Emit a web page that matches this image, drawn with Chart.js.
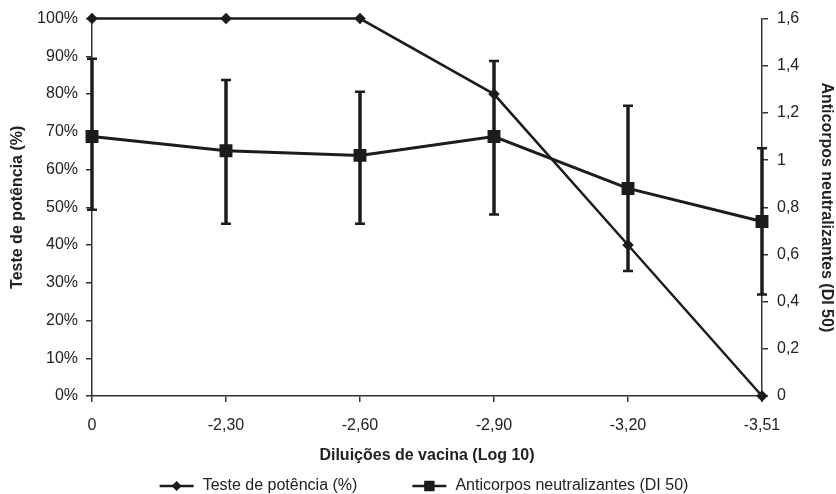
<!DOCTYPE html>
<html>
<head>
<meta charset="utf-8">
<title>Teste de potência x Anticorpos neutralizantes</title>
<script src="https://cdn.jsdelivr.net/npm/chart.js@4.4.1/dist/chart.umd.min.js"></script>
<style>
  html, body { margin: 0; padding: 0; background: #fff; }
  #wrap { position: relative; width: 836px; height: 494px; }
</style>
</head>
<body>
<div id="wrap"><canvas id="chart"></canvas></div>
<script>
// values
const dilutions = ['0', '-2,30', '-2,60', '-2,90', '-3,20', '-3,51'];
const potencyValues = [100, 100, 100, 80, 40, 0];
const antibodyMeans = [1.10, 1.04, 1.02, 1.10, 0.88, 0.74];
const antibodyUpper = [1.43, 1.34, 1.29, 1.42, 1.23, 1.05];
const antibodyLower = [0.79, 0.73, 0.73, 0.77, 0.53, 0.43];
const leftTickLabels = ['0%', '10%', '20%', '30%', '40%', '50%', '60%', '70%', '80%', '90%', '100%'];
const rightTickLabels = ['0', '0,2', '0,4', '0,6', '0,8', '1', '1,2', '1,4', '1,6'];

const INK = '#1c1c1c';
const AXIS = '#333333';
const FONT = "'Liberation Sans', Arial, sans-serif";

Chart.defaults.font.family = FONT;
Chart.defaults.font.size = 16;
Chart.defaults.color = '#222';

// error bars for the antibody series, on the right axis
const errorBars = {
  id: 'errorBars',
  afterDatasetsDraw(chart) {
    const ctx = chart.ctx;
    const meta = chart.getDatasetMeta(1);
    const y1 = chart.scales.y1;
    ctx.save();
    ctx.strokeStyle = INK;
    meta.data.forEach((pt, i) => {
      const top = y1.getPixelForValue(antibodyUpper[i]);
      const bottom = y1.getPixelForValue(antibodyLower[i]);
      ctx.lineWidth = 3.5;
      ctx.beginPath();
      ctx.moveTo(pt.x, top);
      ctx.lineTo(pt.x, bottom);
      ctx.stroke();
      ctx.lineWidth = 2.5;
      ctx.beginPath();
      ctx.moveTo(pt.x - 5, top);
      ctx.lineTo(pt.x + 5, top);
      ctx.moveTo(pt.x - 5, bottom);
      ctx.lineTo(pt.x + 5, bottom);
      ctx.stroke();
    });
    ctx.restore();
  }
};

// legend drawn below the axis title: line + marker, then the label
const bottomLegend = {
  id: 'bottomLegend',
  afterDraw(chart) {
    const ctx = chart.ctx;
    const y = 486;
    const lineLen = 34;
    const gap = 55;
    ctx.save();
    ctx.font = '16px ' + FONT;
    ctx.textBaseline = 'middle';
    const items = chart.data.datasets.map(ds => ({ ds, w: ctx.measureText(ds.label).width }));
    let total = 0;
    items.forEach((it, i) => { total += lineLen + 9 + it.w + (i ? gap : 0); });
    let x = chart.width / 2 + 6 - total / 2;
    items.forEach(({ ds, w }) => {
      ctx.strokeStyle = ds.borderColor;
      ctx.lineWidth = 2.5;
      ctx.beginPath();
      ctx.moveTo(x, y);
      ctx.lineTo(x + lineLen, y);
      ctx.stroke();
      Chart.helpers.drawPoint(ctx, {
        pointStyle: ds.pointStyle,
        radius: ds.pointRadius * 0.8,
        rotation: 0,
        borderWidth: 1
      }, x + lineLen / 2, y);
      ctx.fillStyle = ds.pointBackgroundColor;
      ctx.fill();
      ctx.fillStyle = '#222';
      ctx.fillText(ds.label, x + lineLen + 9, y);
      x += lineLen + 9 + w + gap;
    });
    ctx.restore();
  }
};

const ctx = document.getElementById('chart').getContext('2d');

new Chart(ctx, {
  type: 'line',
  data: {
    labels: dilutions,
    datasets: [
      {
        label: 'Teste de potência (%)',
        data: potencyValues,
        yAxisID: 'y',
        borderColor: INK,
        borderWidth: 2.5,
        pointStyle: 'rectRot',
        pointRadius: 4,
        pointBackgroundColor: INK,
        pointBorderColor: INK,
        tension: 0,
        clip: false
      },
      {
        label: 'Anticorpos neutralizantes (DI 50)',
        data: antibodyMeans,
        yAxisID: 'y1',
        borderColor: INK,
        borderWidth: 3,
        pointStyle: 'rect',
        pointRadius: 7,
        pointBackgroundColor: INK,
        pointBorderColor: INK,
        tension: 0,
        clip: false
      }
    ]
  },
  options: {
    responsive: true,
    maintainAspectRatio: false,
    animation: false,
    layout: { padding: { top: 17, left: 0, right: 0, bottom: 0 } },
    plugins: {
      legend: { display: false },
      tooltip: { enabled: false }
    },
    scales: {
      x: {
        offset: false,
        afterFit: scale => { scale.height = 98; },
        grid: { drawOnChartArea: false, drawTicks: true, tickLength: 6, color: AXIS, lineWidth: 1.5, offset: false },
        border: { display: true, color: AXIS, width: 1.5 },
        ticks: { padding: 14, color: '#222', maxRotation: 0 },
        title: {
          display: true,
          text: 'Diluições de vacina (Log 10)',
          font: { size: 16, weight: 'bold' },
          color: '#222',
          padding: { top: 4, bottom: 29 }
        }
      },
      y: {
        position: 'left',
        min: 0,
        max: 100,
        afterFit: scale => { scale.width = 92; },
        grid: { drawOnChartArea: false, drawTicks: true, tickLength: 6, color: AXIS, lineWidth: 1.5 },
        border: { display: true, color: AXIS, width: 1.5 },
        ticks: {
          stepSize: 10,
          padding: 8,
          color: '#222',
          callback: (value, index) => leftTickLabels[index]
        },
        title: {
          display: true,
          text: 'Teste de potência (%)',
          font: { size: 16, weight: 'bold' },
          color: '#222',
          padding: { top: 8, bottom: 0 }
        }
      },
      y1: {
        position: 'right',
        min: 0,
        max: 1.6,
        afterFit: scale => { scale.width = 74; },
        grid: { drawOnChartArea: false, drawTicks: true, tickLength: 6, color: AXIS, lineWidth: 1.5 },
        border: { display: true, color: AXIS, width: 1.5 },
        ticks: {
          stepSize: 0.2,
          padding: 9,
          color: '#222',
          callback: (value, index) => rightTickLabels[index]
        },
        title: {
          display: true,
          text: 'Anticorpos neutralizantes (DI 50)',
          font: { size: 16, weight: 'bold' },
          color: '#222',
          padding: { top: 0, bottom: 0 }
        }
      }
    }
  },
  plugins: [errorBars, bottomLegend]
});
</script>
</body>
</html>
